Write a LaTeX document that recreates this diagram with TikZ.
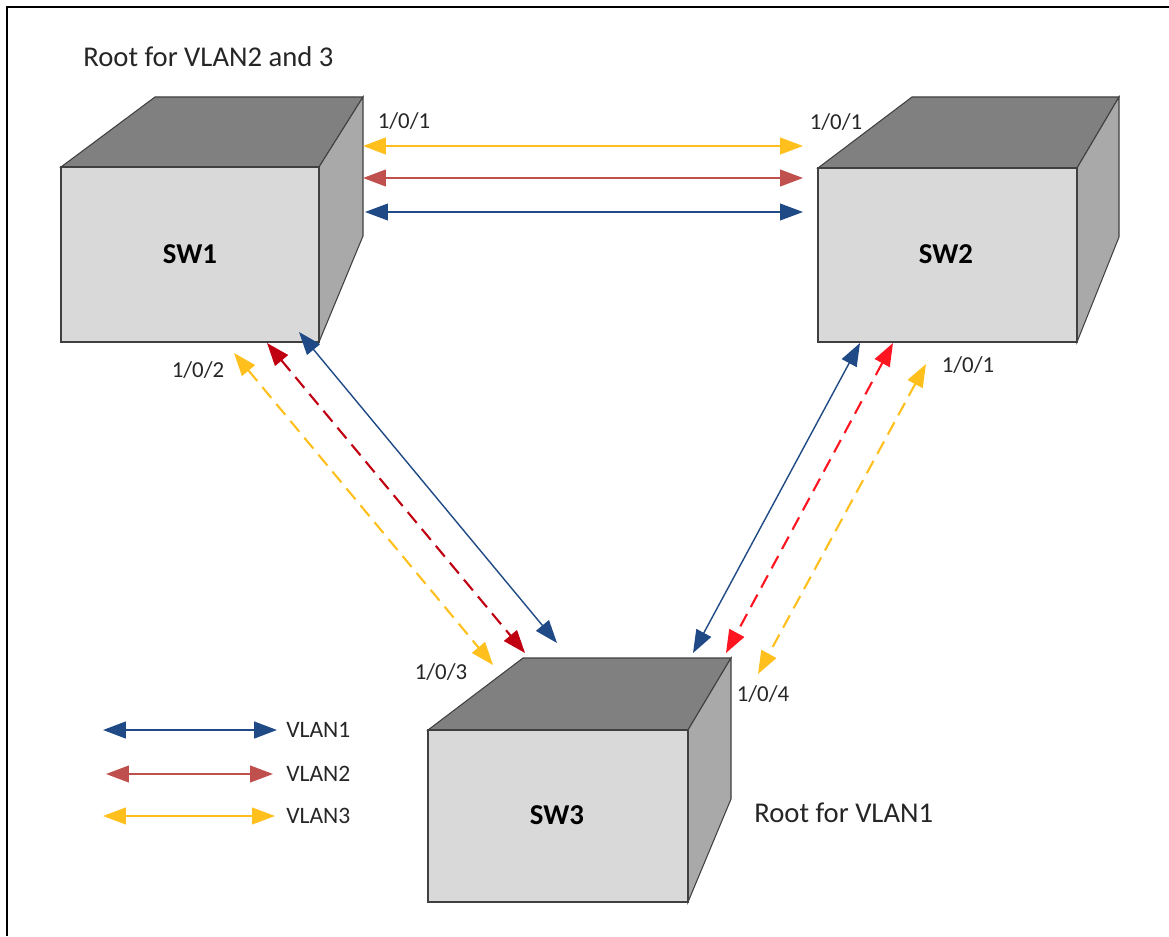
\documentclass[tikz,border=0pt]{standalone}
\usepackage{fontspec}
\setmainfont{Carlito}
\usetikzlibrary{calc, arrows.meta}

\begin{document}
\begin{tikzpicture}[x=0.02cm, y=-0.02cm]
    % Define colors
    \definecolor{borderColour}{HTML}{404040}
    \definecolor{frontColour}{HTML}{D9D9D9}
    \definecolor{topColour}{HTML}{808080}
    \definecolor{sideColour}{HTML}{A9A9A9}
    \definecolor{vlanBlue}{HTML}{1F4A85}
    \definecolor{vlanRed}{HTML}{C0504D}
    \definecolor{vlanYellow}{HTML}{FFC01E}
    \definecolor{darkRed}{HTML}{C00010}
    \definecolor{brightRed}{HTML}{FF1520}

    % Define styles
    \tikzset{
        frontFace/.style={fill=frontColour, draw=borderColour, line width=0.6pt},
        topFace/.style={fill=topColour, draw=borderColour, line width=0.6pt},
        sideFace/.style={fill=sideColour, draw=borderColour, line width=0.6pt},
        link/.style={{Triangle[length=13pt,width=9.5pt]}-{Triangle[length=13pt,width=9.5pt]}, line width=0.8pt},
        dashedLink/.style={link, dash pattern=on 8pt off 4.5pt, line width=1.2pt},
        portLabel/.style={font=\fontsize{13}{15}\selectfont, text=black!85, inner sep=0pt},
        rootLabel/.style={font=\fontsize{16.3}{18}\selectfont, text=black!85, inner sep=0pt},
        legendLabel/.style={font=\fontsize{13.4}{15}\selectfont, text=black!85, inner sep=0pt},
        switchLabel/.style={font=\fontsize{16.4}{18}\selectfont\bfseries, inner sep=0pt}
    }

    \useasboundingbox (0,0) rectangle (1169,936);

    % Draw frame
    \draw[black, line width=0.8pt] (7,936) -- (7,7) -- (1169,7);

    % Draw the three switches
    \foreach \name/\lx/\rx/\ty/\by/\bx/\tx/\sy/\hy in {
        SW1/61/319/167/342/155/363/236/97,
        SW2/818/1077/168/342/912/1119/237/97,
        SW3/428/688/730/902/523/731/799/658}
    {
        \filldraw[topFace] (\lx,\ty) -- (\bx,\hy) -- (\tx,\hy) -- (\rx,\ty) -- cycle;
        \filldraw[sideFace] (\rx,\ty) -- (\tx,\hy) -- (\tx,\sy) -- (\rx,\by) -- cycle;
        \filldraw[frontFace] (\lx,\ty) rectangle (\rx,\by);
    }

    % Switch names
    \node[switchLabel] (sw1) at (190,254) {SW1};
    \node[switchLabel] (sw2) at (946,254) {SW2};
    \node[switchLabel] (sw3) at (557,815) {SW3};

    % Define link end points
    \coordinate (A1) at (363,146);
    \coordinate (A2) at (803,146);
    \coordinate (B1) at (363,178);
    \coordinate (B2) at (803,178);
    \coordinate (C1) at (365,212);
    \coordinate (C2) at (803,212);
    \coordinate (D1) at (234,353);
    \coordinate (D2) at (493,665);
    \coordinate (E1) at (267,343);
    \coordinate (E2) at (525,653);
    \coordinate (F1) at (299,332);
    \coordinate (F2) at (557,643);
    \coordinate (G1) at (860,343);
    \coordinate (G2) at (693,653);
    \coordinate (H1) at (893,343);
    \coordinate (H2) at (726,653);
    \coordinate (I1) at (926,364);
    \coordinate (I2) at (758,674);

    % Draw links
    \draw[link, vlanYellow, line width=1pt] (A1) -- (A2);
    \draw[link, vlanRed, line width=1pt] (B1) -- (B2);
    \draw[link, vlanBlue] (C1) -- (C2);
    \draw[dashedLink, vlanYellow] (D1) -- (D2);
    \draw[dashedLink, darkRed] (E1) -- (E2);
    \draw[link, vlanBlue] (F1) -- (F2);
    \draw[link, vlanBlue] (G1) -- (G2);
    \draw[dashedLink, brightRed] (H1) -- (H2);
    \draw[dashedLink, vlanYellow] (I1) -- (I2);

    % Port labels
    \node[portLabel] (p1) at (404,121) {1/0/1};
    \node[portLabel] (p2) at (836,122) {1/0/1};
    \node[portLabel] (p3) at (198,370) {1/0/2};
    \node[portLabel] (p4) at (968,365) {1/0/1};
    \node[portLabel] (p5) at (441,672) {1/0/3};
    \node[portLabel] (p6) at (763,694) {1/0/4};

    % Root labels
    \node[rootLabel, anchor=west] (root1) at (83,57) {Root for VLAN2 and 3};
    \node[rootLabel, anchor=west] (root3) at (754,813) {Root for VLAN1};

    % Legend
    \foreach \i/\y/\col/\xa/\xb/\lw in {1/730/vlanBlue/103/277/1.2pt, 2/774/vlanRed/106/273/1pt, 3/816/vlanYellow/103/275/1pt}
    {
        \coordinate (L\i a) at (\xa,\y);
        \coordinate (L\i b) at (\xb,\y);
        \draw[link, \col, line width=\lw] (L\i a) -- (L\i b);
        \node[legendLabel, anchor=west] (vlan\i) at (286,\y) {VLAN\i};
    }
\end{tikzpicture}
\end{document}
